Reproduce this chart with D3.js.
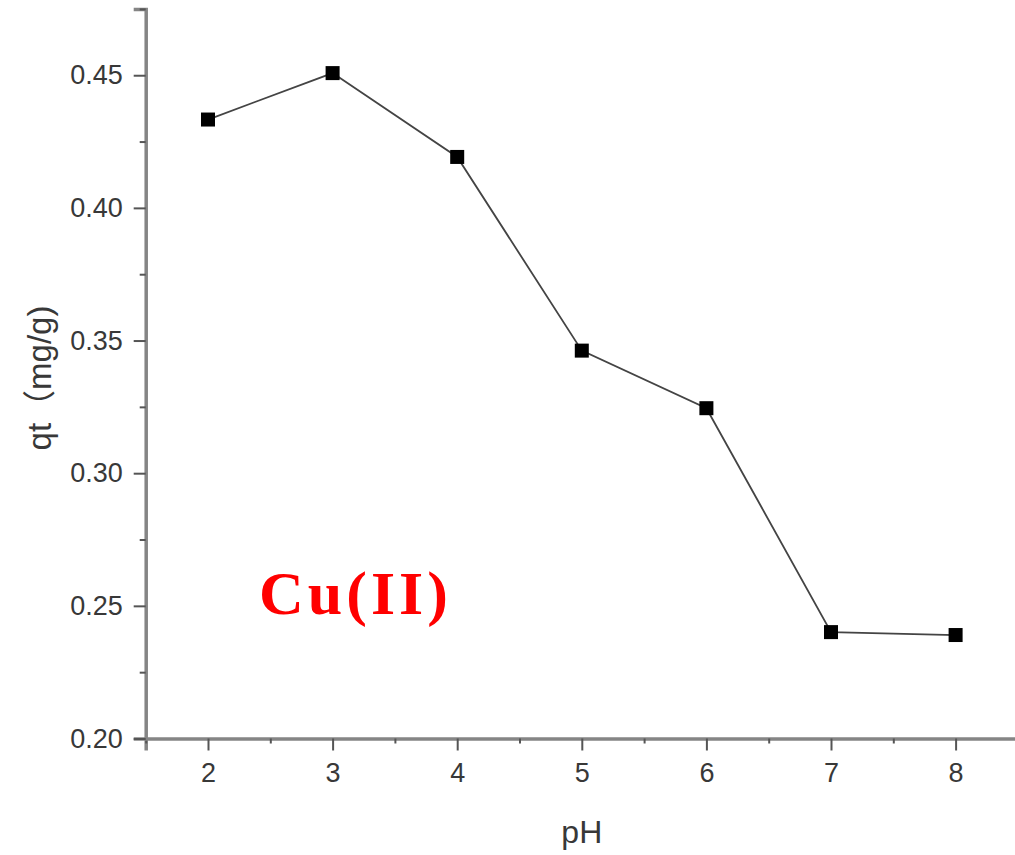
<!DOCTYPE html>
<html>
<head>
<meta charset="utf-8">
<script src="https://cdn.jsdelivr.net/npm/d3@7"></script>
<style>
  html, body { margin: 0; padding: 0; background: #fff; }
  svg { display: block; }
</style>
</head>
<body>
<svg id="chart" width="1015" height="855"></svg>
<script>
// pH values and adsorption capacity qt (mg/g)
const pH = [2, 3, 4, 5, 6, 7, 8];
const qt = [0.4333, 0.4508, 0.4192, 0.3462, 0.3245, 0.2401, 0.2390];
const xTicks = [2, 3, 4, 5, 6, 7, 8];
const yTicks = [0.20, 0.25, 0.30, 0.35, 0.40, 0.45];
const xMinor = [1.5, 2.5, 3.5, 4.5, 5.5, 6.5, 7.5, 8.5];
const yMinor = [0.225, 0.275, 0.325, 0.375, 0.425, 0.475];

const svg = d3.select("#chart");
const plotLeft = 145.7, plotRight = 1017.9, plotTop = 8.9, plotBottom = 738.5;

const x = d3.scaleLinear().domain([1.5, 8.5]).range([plotLeft, plotRight]);
const y = d3.scaleLinear().domain([0.20, 0.475]).range([plotBottom, plotTop]);

const axisColor = "#858585";
const tickColor = "#555";
const textColor = "#383838";
const sans = "Arial, 'Liberation Sans', sans-serif";

// x axis
const gx = svg.append("g").attr("transform", `translate(0,${plotBottom})`);
gx.call(d3.axisBottom(x).tickValues(xTicks).tickFormat(d3.format("d")).tickSize(12).tickPadding(12));
gx.append("g").call(d3.axisBottom(x).tickValues(xMinor).tickSize(5).tickFormat(""))
  .select(".domain").remove();

// y axis
const gy = svg.append("g").attr("transform", `translate(${plotLeft},0)`);
gy.call(d3.axisLeft(y).tickValues(yTicks).tickFormat(d3.format(".2f")).tickSize(12).tickPadding(11));
gy.append("g").call(d3.axisLeft(y).tickValues(yMinor).tickSize(6).tickFormat(""))
  .select(".domain").remove();

svg.selectAll(".domain").attr("stroke", axisColor).attr("stroke-width", 3.5);
svg.selectAll(".tick line").attr("stroke", tickColor).attr("stroke-width", 2);
svg.selectAll(".tick text")
  .attr("fill", textColor)
  .style("font-family", sans)
  .style("font-size", "27px");

// axis titles
svg.append("text")
  .attr("x", x(5)).attr("y", 843)
  .attr("text-anchor", "middle")
  .attr("fill", textColor)
  .style("font-family", sans)
  .style("font-size", "32px")
  .text("pH");

svg.append("text")
  .attr("transform", `translate(51,378) rotate(-90)`)
  .attr("text-anchor", "middle")
  .attr("fill", textColor)
  .style("font-family", "Arial, 'Liberation Sans', 'Noto Sans CJK SC', sans-serif")
  .style("font-size", "33px")
  .text("qt（mg/g)");

// data line
const pts = pH.map((p, i) => [p, qt[i]]);
svg.append("path")
  .datum(pts)
  .attr("fill", "none")
  .attr("stroke", "#444")
  .attr("stroke-width", 1.8)
  .attr("d", d3.line().x(d => x(d[0])).y(d => y(d[1])));

// square markers
const s = 14;
svg.selectAll("rect.pt")
  .data(pts)
  .join("rect")
  .attr("class", "pt")
  .attr("x", d => x(d[0]) - s / 2)
  .attr("y", d => y(d[1]) - s / 2)
  .attr("width", s).attr("height", s)
  .attr("fill", "#000");

// annotation
svg.append("text")
  .attr("x", 259).attr("y", 614)
  .attr("fill", "#ff0000")
  .style("font-family", "'Liberation Serif', 'Times New Roman', serif")
  .style("font-weight", "bold")
  .style("font-size", "62px")
  .style("letter-spacing", "4px")
  .text("Cu(II)");
</script>
</body>
</html>
